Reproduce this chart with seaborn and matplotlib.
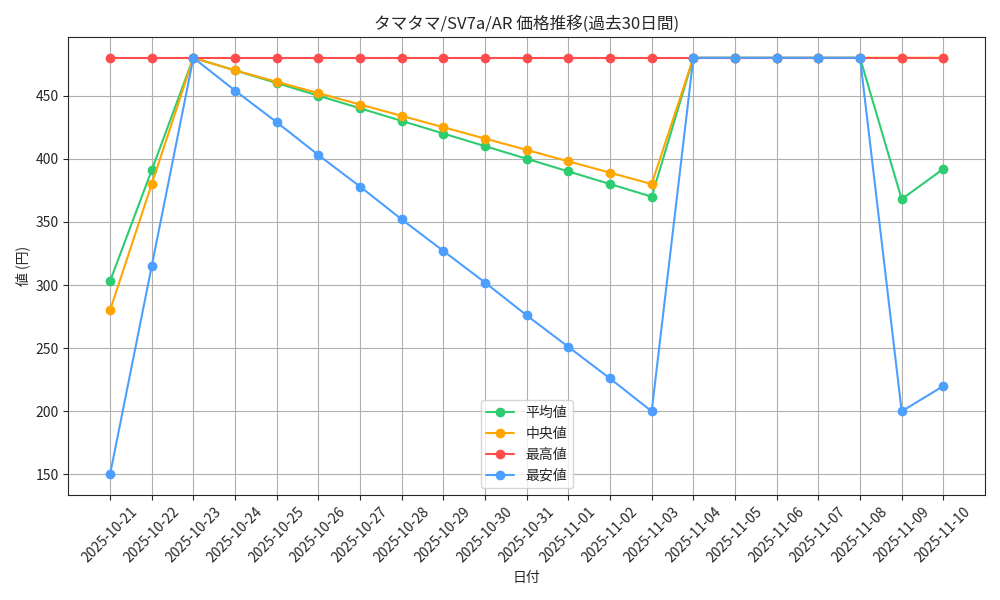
import matplotlib
matplotlib.use('Agg')
import matplotlib.pyplot as plt
import seaborn as sns
import pandas as pd

dates = pd.date_range('2025-10-21', '2025-11-10').strftime('%Y-%m-%d').tolist()
avg_vals = [303, 391, 480, 470, 460, 450, 440, 430, 420, 410, 400, 390, 380, 370,
            480, 480, 480, 480, 480, 368, 392]
med_vals = [280, 380, 480, 470, 461, 452, 443, 434, 425, 416, 407, 398, 389, 380,
            480, 480, 480, 480, 480, 480, 480]
max_vals = [480] * 21
min_vals = [150, 315, 480, 454, 429, 403, 378, 352, 327, 302, 276, 251, 226, 200,
            480, 480, 480, 480, 480, 200, 220]

sns.set_style('ticks')
plt.rcParams['font.family'] = ['Noto Sans CJK JP', 'DejaVu Sans']

fig, ax = plt.subplots(figsize=(10, 6), dpi=100)
series = [('平均値', avg_vals, '#2ecc71'), ('中央値', med_vals, '#ffa500'),
          ('最高値', max_vals, '#ff4d4d'), ('最安値', min_vals, '#4d9fff')]
for name, vals, col in series:
    ax.plot(dates, vals, marker='o', color=col, label=name, linewidth=1.5, markersize=6)

ax.set_title('タマタマ/SV7a/AR 価格推移(過去30日間)')
ax.set_xlabel('日付')
ax.set_ylabel('値 (円)')
ax.grid(True, color='#b0b0b0')
ax.legend(loc='lower center')
plt.xticks(rotation=45)
plt.tight_layout()
plt.savefig('out.png')
